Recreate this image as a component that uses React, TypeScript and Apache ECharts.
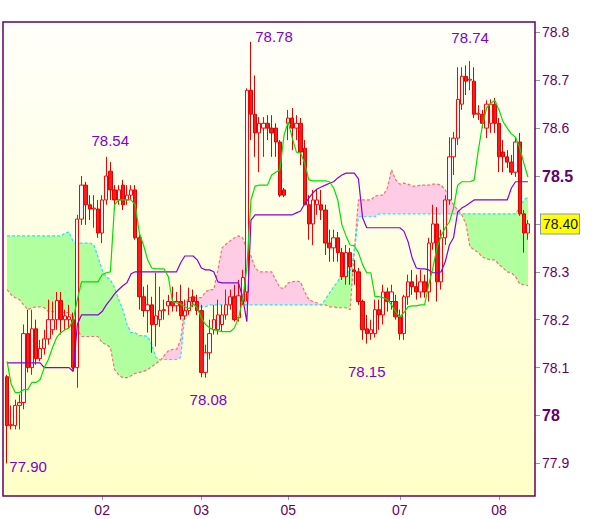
import React, { useEffect, useRef } from 'react';
import * as echarts from 'echarts';

// [open, close, low, high]
const ohlc: number[][] = [
  [78.081, 77.979, 77.900, 78.085], [77.979, 77.981, 77.971, 78.021], [77.979, 78.021, 77.971, 78.033], [78.021, 78.027, 77.971, 78.044], [78.027, 78.171, 78.013, 78.190],
  [78.171, 78.100, 78.090, 78.221], [78.100, 78.181, 78.085, 78.221], [78.181, 78.119, 78.106, 78.200], [78.119, 78.140, 78.113, 78.158], [78.140, 78.160, 78.127, 78.179],
  [78.160, 78.200, 78.148, 78.242], [78.179, 78.200, 78.169, 78.238], [78.200, 78.240, 78.179, 78.258], [78.240, 78.200, 78.169, 78.258], [78.200, 78.208, 78.179, 78.221],
  [78.200, 78.206, 78.183, 78.231], [78.200, 78.100, 78.096, 78.215], [78.100, 78.410, 78.058, 78.419], [78.410, 78.481, 78.398, 78.500], [78.481, 78.440, 78.398, 78.488],
  [78.440, 78.431, 78.408, 78.460], [78.431, 78.433, 78.392, 78.460], [78.431, 78.381, 78.371, 78.450], [78.381, 78.450, 78.360, 78.460], [78.450, 78.500, 78.440, 78.540],
  [78.510, 78.471, 78.450, 78.529], [78.471, 78.450, 78.429, 78.481], [78.450, 78.471, 78.440, 78.481], [78.481, 78.440, 78.429, 78.492], [78.450, 78.460, 78.440, 78.481],
  [78.460, 78.471, 78.450, 78.481], [78.471, 78.371, 78.367, 78.481], [78.371, 78.248, 78.221, 78.377], [78.248, 78.219, 78.206, 78.269], [78.219, 78.231, 78.173, 78.273],
  [78.231, 78.190, 78.131, 78.248], [78.190, 78.208, 78.144, 78.298], [78.200, 78.219, 78.185, 78.269], [78.219, 78.221, 78.200, 78.242], [78.229, 78.238, 78.210, 78.252],
  [78.238, 78.229, 78.217, 78.269], [78.229, 78.238, 78.217, 78.258], [78.238, 78.208, 78.200, 78.273], [78.208, 78.219, 78.200, 78.242], [78.219, 78.238, 78.210, 78.267],
  [78.248, 78.238, 78.227, 78.263], [78.238, 78.219, 78.210, 78.252], [78.219, 78.090, 78.080, 78.231], [78.090, 78.131, 78.079, 78.148], [78.131, 78.171, 78.117, 78.200],
  [78.179, 78.200, 78.169, 78.231], [78.179, 78.210, 78.169, 78.242], [78.190, 78.210, 78.175, 78.231], [78.210, 78.231, 78.200, 78.263], [78.231, 78.248, 78.221, 78.263],
  [78.248, 78.200, 78.196, 78.273], [78.204, 78.250, 78.196, 78.283], [78.238, 78.288, 78.231, 78.304], [78.258, 78.679, 78.238, 78.683], [78.679, 78.629, 78.575, 78.780],
  [78.629, 78.590, 78.540, 78.710], [78.590, 78.610, 78.508, 78.623], [78.600, 78.610, 78.540, 78.623], [78.610, 78.600, 78.575, 78.627], [78.600, 78.590, 78.540, 78.627],
  [78.600, 78.571, 78.540, 78.610], [78.571, 78.460, 78.456, 78.575], [78.471, 78.460, 78.456, 78.475], [78.610, 78.621, 78.575, 78.638], [78.621, 78.600, 78.554, 78.642],
  [78.600, 78.610, 78.575, 78.627], [78.610, 78.550, 78.523, 78.621], [78.558, 78.440, 78.440, 78.575], [78.440, 78.400, 78.367, 78.460], [78.400, 78.450, 78.356, 78.471],
  [78.440, 78.450, 78.419, 78.471], [78.440, 78.429, 78.408, 78.471], [78.429, 78.360, 78.335, 78.440], [78.360, 78.350, 78.321, 78.388], [78.350, 78.371, 78.321, 78.388],
  [78.371, 78.340, 78.321, 78.383], [78.340, 78.290, 78.283, 78.350], [78.290, 78.340, 78.273, 78.356], [78.340, 78.310, 78.273, 78.350], [78.304, 78.300, 78.273, 78.325],
  [78.300, 78.238, 78.231, 78.308], [78.238, 78.179, 78.158, 78.242], [78.181, 78.171, 78.150, 78.210], [78.171, 78.179, 78.158, 78.200], [78.171, 78.221, 78.163, 78.242],
  [78.221, 78.210, 78.179, 78.242], [78.210, 78.258, 78.190, 78.273], [78.258, 78.238, 78.217, 78.267], [78.238, 78.258, 78.221, 78.273], [78.238, 78.206, 78.200, 78.252],
  [78.206, 78.171, 78.158, 78.221], [78.171, 78.248, 78.158, 78.252], [78.248, 78.279, 78.231, 78.294], [78.279, 78.269, 78.252, 78.304], [78.269, 78.258, 78.242, 78.294],
  [78.258, 78.279, 78.246, 78.304], [78.279, 78.258, 78.246, 78.294], [78.258, 78.360, 78.238, 78.371], [78.360, 78.400, 78.346, 78.440], [78.400, 78.279, 78.238, 78.435],
  [78.279, 78.371, 78.263, 78.388], [78.371, 78.450, 78.356, 78.460], [78.450, 78.540, 78.440, 78.581], [78.540, 78.579, 78.502, 78.592], [78.579, 78.660, 78.565, 78.727],
  [78.650, 78.708, 78.638, 78.727], [78.708, 78.698, 78.669, 78.731], [78.700, 78.702, 78.679, 78.740], [78.698, 78.629, 78.621, 78.727], [78.629, 78.631, 78.617, 78.648],
  [78.629, 78.610, 78.600, 78.638], [78.600, 78.650, 78.579, 78.658], [78.610, 78.650, 78.590, 78.660], [78.650, 78.610, 78.590, 78.663], [78.610, 78.540, 78.508, 78.621],
  [78.550, 78.540, 78.508, 78.575], [78.540, 78.529, 78.517, 78.554], [78.529, 78.508, 78.502, 78.544], [78.508, 78.571, 78.498, 78.579], [78.571, 78.421, 78.417, 78.590],
  [78.421, 78.381, 78.340, 78.429], [78.381, 78.400, 78.367, 78.408],
];

const tenkan = [
  78.113, 78.065, 78.048, 78.048, 78.054, 78.054, 78.069, 78.069, 78.075, 78.100,
  78.117, 78.142, 78.163, 78.173, 78.179, 78.183, 78.200, 78.242, 78.279, 78.279,
  78.279, 78.279, 78.279, 78.294, 78.298, 78.300, 78.440, 78.450, 78.450, 78.450,
  78.450, 78.440, 78.381, 78.356, 78.325, 78.308, 78.306, 78.306, 78.306, 78.290,
  78.238, 78.235, 78.233, 78.227, 78.223, 78.233, 78.225, 78.204, 78.190, 78.183,
  78.179, 78.177, 78.175, 78.175, 78.175, 78.183, 78.204, 78.242, 78.308, 78.450,
  78.479, 78.481, 78.481, 78.481, 78.502, 78.508, 78.513, 78.585, 78.613, 78.579,
  78.550, 78.548, 78.527, 78.492, 78.490, 78.490, 78.490, 78.490, 78.488, 78.475,
  78.450, 78.398, 78.375, 78.356, 78.354, 78.340, 78.315, 78.298, 78.298, 78.248,
  78.248, 78.246, 78.242, 78.231, 78.217, 78.206, 78.215, 78.227, 78.229, 78.229,
  78.231, 78.231, 78.273, 78.308, 78.350, 78.375, 78.392, 78.404, 78.433, 78.481,
  78.488, 78.488, 78.488, 78.492, 78.554, 78.606, 78.642, 78.652, 78.658, 78.638,
  78.613, 78.600, 78.588, 78.581, 78.560, 78.527, 78.498,
];

const kijun = [
  78.110, 78.110, 78.110, 78.110, 78.110, 78.110, 78.110, 78.110, 78.110, 78.100,
  78.100, 78.100, 78.100, 78.100, 78.100, 78.100, 78.092, 78.190, 78.210, 78.210,
  78.210, 78.210, 78.210, 78.217, 78.231, 78.242, 78.254, 78.263, 78.271, 78.277,
  78.296, 78.300, 78.300, 78.300, 78.300, 78.300, 78.300, 78.300, 78.300, 78.300,
  78.300, 78.300, 78.319, 78.333, 78.333, 78.333, 78.325, 78.308, 78.304, 78.304,
  78.300, 78.279, 78.277, 78.277, 78.277, 78.277, 78.277, 78.246, 78.196, 78.408,
  78.419, 78.419, 78.419, 78.419, 78.419, 78.419, 78.419, 78.419, 78.419, 78.419,
  78.423, 78.427, 78.442, 78.454, 78.465, 78.473, 78.477, 78.481, 78.485, 78.488,
  78.496, 78.502, 78.506, 78.506, 78.506, 78.494, 78.413, 78.392, 78.392, 78.392,
  78.392, 78.392, 78.392, 78.392, 78.392, 78.392, 78.385, 78.363, 78.329, 78.308,
  78.306, 78.306, 78.304, 78.298, 78.298, 78.300, 78.321, 78.356, 78.371, 78.425,
  78.433, 78.438, 78.444, 78.450, 78.450, 78.450, 78.450, 78.450, 78.450, 78.450,
  78.450, 78.450, 78.475, 78.488, 78.488, 78.488, 78.488,
];

const spanA = [
  78.375, 78.375, 78.375, 78.375, 78.375, 78.375, 78.375, 78.375, 78.375, 78.375,
  78.375, 78.375, 78.375, 78.375, 78.381, 78.383, 78.363, 78.360, 78.360, 78.360,
  78.360, 78.356, 78.331, 78.304, 78.290, 78.283, 78.267, 78.242, 78.221, 78.190,
  78.173, 78.173, 78.167, 78.167, 78.165, 78.148, 78.121, 78.117, 78.117, 78.117,
  78.117, 78.117, 78.121, 78.210, 78.227, 78.227, 78.227, 78.227, 78.227, 78.231,
  78.231, 78.231, 78.231, 78.231, 78.231, 78.231, 78.231, 78.231, 78.231, 78.231,
  78.231, 78.231, 78.231, 78.231, 78.231, 78.231, 78.231, 78.231, 78.231, 78.231,
  78.231, 78.231, 78.231, 78.231, 78.231, 78.231, 78.231, 78.242, 78.256, 78.269,
  78.279, 78.300, 78.300, 78.300, 78.340, 78.415, 78.415, 78.415, 78.415, 78.415,
  78.421, 78.421, 78.421, 78.421, 78.421, 78.421, 78.421, 78.421, 78.421, 78.421,
  78.421, 78.421, 78.421, 78.421, 78.421, 78.421, 78.421, 78.421, 78.421, 78.421,
  78.421, 78.421, 78.421, 78.421, 78.421, 78.421, 78.421, 78.421, 78.421, 78.421,
  78.421, 78.421, 78.421, 78.421, 78.435, 78.450, 78.456,
];

const spanB = [
  78.263, 78.252, 78.246, 78.242, 78.231, 78.221, 78.225, 78.227, 78.227, 78.225,
  78.217, 78.217, 78.215, 78.215, 78.215, 78.215, 78.204, 78.179, 78.165, 78.165,
  78.165, 78.165, 78.165, 78.152, 78.148, 78.142, 78.096, 78.085, 78.079, 78.079,
  78.083, 78.088, 78.090, 78.092, 78.096, 78.102, 78.108, 78.115, 78.125, 78.135,
  78.138, 78.138, 78.158, 78.231, 78.246, 78.246, 78.246, 78.246, 78.258, 78.263,
  78.263, 78.304, 78.350, 78.358, 78.365, 78.371, 78.375, 78.371, 78.346, 78.333,
  78.308, 78.300, 78.300, 78.300, 78.300, 78.283, 78.267, 78.265, 78.277, 78.279,
  78.281, 78.279, 78.258, 78.242, 78.238, 78.235, 78.231, 78.231, 78.227, 78.227,
  78.225, 78.225, 78.225, 78.221, 78.346, 78.450, 78.450, 78.450, 78.450, 78.458,
  78.460, 78.460, 78.475, 78.513, 78.492, 78.483, 78.485, 78.483, 78.479, 78.479,
  78.481, 78.481, 78.481, 78.483, 78.483, 78.481, 78.471, 78.454, 78.440, 78.429,
  78.419, 78.400, 78.352, 78.346, 78.340, 78.331, 78.327, 78.325, 78.325, 78.315,
  78.308, 78.300, 78.298, 78.290, 78.275, 78.273, 78.271,
];

const xTickIndex = [23, 47, 68, 95, 119];
const xTickLabels = ['02', '03', '05', '07', '08'];
const yTickValues = [77.9, 78, 78.1, 78.2, 78.3, 78.4, 78.5, 78.6, 78.7, 78.8];
const yLabelValues = [77.9, 78, 78.1, 78.2, 78.3, 78.5, 78.6, 78.7, 78.8];
const yBoldValues = [78, 78.5];

const extremeIdx = [0, 24, 47, 59, 87, 112];
const extremeVal = [77.9, 78.54, 78.08, 78.78, 78.15, 78.74];
const extremeOffset = [[21, 3], [4, -16], [7, 22], [23, -5], [0, 28], [0, -24]];
const lastPrice = 78.4;

const FONT = "'Liberation Sans', Arial, sans-serif";

export default function App() {
  const ref = useRef<HTMLDivElement>(null);
  useEffect(() => {
    if (!ref.current) return;
    const chart = echarts.init(ref.current, null, { renderer: 'svg' });
    const categories = ohlc.map((_, i) => String(i));
    const cloudBase = spanA.map((a, i) => Math.min(a, spanB[i]));
    const cloudGreen = spanA.map((a, i) => Math.max(a - spanB[i], 0));
    const cloudPink = spanA.map((a, i) => Math.max(spanB[i] - a, 0));
    const showX = (i: number) => xTickIndex.includes(i);
    const fmtY = (v: number) => {
      const t = String(parseFloat(v.toFixed(2)));
      return yBoldValues.some((b) => Math.abs(b - v) < 1e-6) ? `{b|${t}}` : t;
    };
    const lineBase = { type: 'line', symbol: 'none', silent: true, animation: false };

    chart.setOption({
      animation: false,
      textStyle: { fontFamily: FONT },
      grid: { left: 5, right: 70, top: 22, bottom: 23 },
      graphic: [
        {
          type: 'rect', z: -1, silent: true,
          shape: { x: 3, y: 22, width: 532, height: 474 },
          style: {
            fill: { type: 'linear', x: 0, y: 0, x2: 0, y2: 1, colorStops: [{ offset: 0, color: '#FFFFFA' }, { offset: 1, color: '#FFFFC8' }] },
          },
        },
        {
          type: 'rect', z: 50, silent: true,
          shape: { x: 3, y: 22, width: 532, height: 474 },
          style: { fill: 'none', stroke: '#660066', lineWidth: 1.5 },
        },
      ],
      xAxis: {
        type: 'category', data: categories, boundaryGap: true,
        axisLine: { show: false },
        axisTick: { show: true, alignWithLabel: true, interval: (i: number) => showX(i), length: 4, lineStyle: { color: '#8899AA' } },
        axisLabel: {
          show: true, interval: (i: number) => showX(i), margin: 7, color: '#660066', fontSize: 14, fontFamily: FONT,
          formatter: (_v: string, i: number) => { const k = xTickIndex.indexOf(i); return k >= 0 ? xTickLabels[k] : ''; },
        },
        splitLine: { show: false },
      },
      yAxis: {
        type: 'value', position: 'right', offset: 5, min: 77.832, max: 78.8215,
        axisLine: { show: false },
        axisTick: { show: true, length: 5, customValues: yTickValues, lineStyle: { color: '#8899AA' } },
        axisLabel: {
          customValues: yLabelValues, margin: 7, color: '#660066', fontSize: 14, fontFamily: FONT,
          formatter: fmtY,
          rich: { b: { fontWeight: 'bold', fontSize: 16, color: '#660066', fontFamily: FONT } },
        },
        splitLine: { show: false },
      },
      series: [
        { ...lineBase, name: 'base', data: cloudBase, stack: 'cloud', lineStyle: { opacity: 0 }, z: 1 },
        { ...lineBase, name: 'green', data: cloudGreen, stack: 'cloud', lineStyle: { opacity: 0 }, areaStyle: { color: '#B2FFA0', opacity: 1 }, z: 1 },
        { ...lineBase, name: 'pink', data: cloudPink, stack: 'cloud', lineStyle: { opacity: 0 }, areaStyle: { color: '#FFCCE6', opacity: 1 }, z: 1 },
        { ...lineBase, name: 'spanB', data: spanB, lineStyle: { color: '#FF6E6E', width: 1.2, type: [3, 2] }, z: 2 },
        { ...lineBase, name: 'spanA', data: spanA, lineStyle: { color: '#1EE6F5', width: 1.2, type: [3, 2] }, z: 2 },
        {
          type: 'candlestick', name: 'price', data: ohlc, barWidth: 3.8, barMaxWidth: 10, z: 3, silent: true,
          itemStyle: { color: '#F6F6F6', color0: '#FF1A1A', borderColor: '#FF0000', borderColor0: '#E00000', borderWidth: 1 },
          markPoint: {
            symbol: 'circle', symbolSize: 1, silent: true,
            itemStyle: { color: 'rgba(0,0,0,0)' },
            label: { show: true, position: 'inside', color: '#8000CC', fontSize: 15, fontFamily: FONT, formatter: (p: any) => Number(p.value).toFixed(2) },
            data: extremeIdx.map((idx, k) => ({
              coord: [String(idx), extremeVal[k]], value: extremeVal[k],
              label: { offset: extremeOffset[k] },
            })),
          },
          markLine: {
            silent: true, symbol: ['none', 'none'],
            lineStyle: { color: 'rgba(0,0,0,0)', width: 1, type: 'solid' },
            label: {
              show: true, position: 'end', distance: 11, formatter: lastPrice.toFixed(2),
              backgroundColor: '#FFFF00', borderColor: '#8899AA', borderWidth: 1, padding: [2, 1, 2, 2],
              color: '#111', fontSize: 14, lineHeight: 15, fontFamily: FONT,
            },
            data: [{ yAxis: lastPrice }],
          },
        },
        { ...lineBase, name: 'kijun', data: kijun, lineStyle: { color: '#8C00D0', width: 1.2 }, z: 4 },
        { ...lineBase, name: 'tenkan', data: tenkan, lineStyle: { color: '#00E000', width: 1.2 }, z: 4 },
      ],
    });
    return () => chart.dispose();
  }, []);
  return <div ref={ref} style={{ position: 'fixed', left: 0, top: 0, width: 600, height: 519, background: '#fff' }} />;
}
